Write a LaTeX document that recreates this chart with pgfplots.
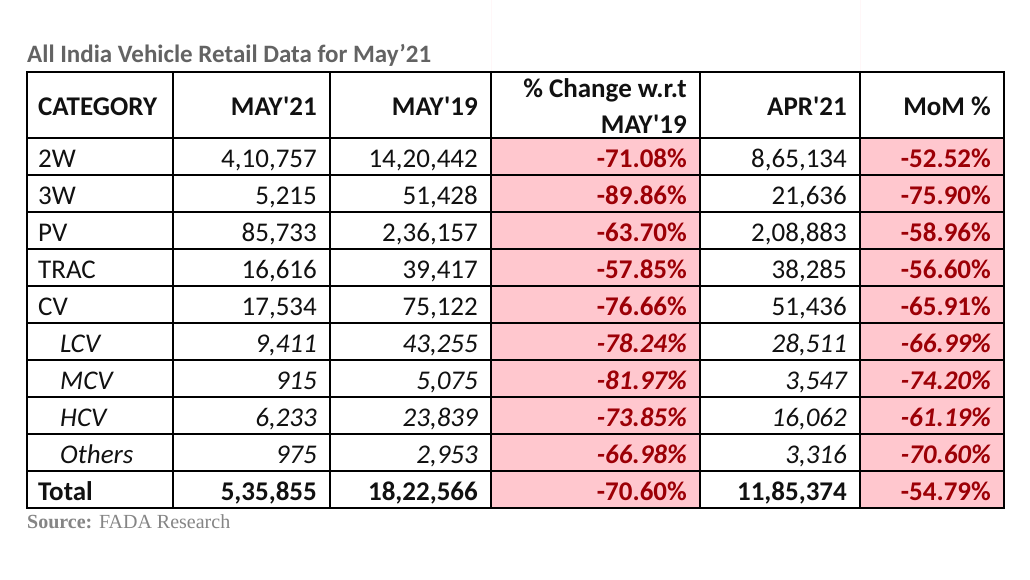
\documentclass[border=0pt]{standalone}
\usepackage{fontspec}
\usepackage{pgfplots}
\pgfplotsset{compat=1.18}
\newfontfamily\calfont{Carlito}
\newfontfamily\srcfont{Liberation Serif}
\definecolor{pinkfill}{HTML}{FFC7CE}
\definecolor{darkred}{HTML}{9C0006}
\definecolor{titlegrey}{HTML}{636363}
\definecolor{srcgrey}{HTML}{858585}
\definecolor{ink}{HTML}{111111}
\tikzset{
  cell/.style={inner sep=0pt, font=\calfont\fontsize{27}{32}\selectfont, text=ink},
  L/.style={cell, anchor=base west},
  R/.style={cell, anchor=base east},
  P/.style={cell, anchor=base east, text=darkred},
}
% y, category, MAY'21, MAY'19, %chg, APR'21, MoM
\newcommand{\rowA}[7]{%
  \node[L] at (axis cs:38,#1) {#2};
  \node[R] at (axis cs:317,#1) {#3};
  \node[R] at (axis cs:478,#1) {#4};
  \node[P] at (axis cs:687,#1) {\bfseries #5};
  \node[R] at (axis cs:847,#1) {#6};
  \node[P] at (axis cs:991,#1) {\bfseries #7};}
\newcommand{\rowB}[7]{%
  \node[L] at (axis cs:60,#1) {\itshape #2};
  \node[R] at (axis cs:317,#1) {\itshape #3};
  \node[R] at (axis cs:478,#1) {\itshape #4};
  \node[P] at (axis cs:687,#1) {\bfseries\itshape #5};
  \node[R] at (axis cs:847,#1) {\itshape #6};
  \node[P] at (axis cs:991,#1) {\bfseries\itshape #7};}
\newcommand{\rowC}[7]{%
  \node[L] at (axis cs:38,#1) {\bfseries #2};
  \node[R] at (axis cs:317,#1) {\bfseries #3};
  \node[R] at (axis cs:478,#1) {\bfseries #4};
  \node[P] at (axis cs:687,#1) {\bfseries #5};
  \node[R] at (axis cs:847,#1) {\bfseries #6};
  \node[P] at (axis cs:991,#1) {\bfseries #7};}
\begin{document}
\begin{tikzpicture}
\begin{axis}[
  width=1030pt, height=579pt, scale only axis,
  xmin=0, xmax=1030, ymin=0, ymax=579, y dir=reverse,
  hide axis, clip=false]
% background (fixes the picture size)
\addplot[draw=none, fill=white] coordinates {(0,0) (1030,0) (1030,579) (0,579)} \closedcycle;
% pink columns
\addplot[draw=none, fill=pinkfill] coordinates {(491,138) (700,138) (700,508) (491,508)} \closedcycle;
\addplot[draw=none, fill=pinkfill] coordinates {(860,138) (1004,138) (1004,508) (860,508)} \closedcycle;
% title
\node[anchor=base west, inner sep=0pt, text=titlegrey, font=\calfont\bfseries\fontsize{25}{30}\selectfont]
  at (axis cs:27,62) {All India Vehicle Retail Data for May’21};
% header
\node[L, font=\calfont\bfseries\fontsize{27}{32}\selectfont] at (axis cs:38,115) {CATEGORY};
\node[R, font=\calfont\bfseries\fontsize{27}{32}\selectfont] at (axis cs:317,115) {MAY'21};
\node[R, font=\calfont\bfseries\fontsize{27}{32}\selectfont] at (axis cs:478,115) {MAY'19};
\node[R, font=\calfont\bfseries\fontsize{27}{32}\selectfont] at (axis cs:687,97) {\% Change w.r.t};
\node[R, font=\calfont\bfseries\fontsize{27}{32}\selectfont] at (axis cs:687,133) {MAY'19};
\node[R, font=\calfont\bfseries\fontsize{27}{32}\selectfont] at (axis cs:847,115) {APR'21};
\node[R, font=\calfont\bfseries\fontsize{27}{32}\selectfont] at (axis cs:991,115) {MoM \%};
% rows
\rowA{167}{2W}{4,10,757}{14,20,442}{-71.08\%}{8,65,134}{-52.52\%}
\rowA{204}{3W}{5,215}{51,428}{-89.86\%}{21,636}{-75.90\%}
\rowA{241}{PV}{85,733}{2,36,157}{-63.70\%}{2,08,883}{-58.96\%}
\rowA{278}{TRAC}{16,616}{39,417}{-57.85\%}{38,285}{-56.60\%}
\rowA{315}{CV}{17,534}{75,122}{-76.66\%}{51,436}{-65.91\%}
\rowB{352}{LCV}{9,411}{43,255}{-78.24\%}{28,511}{-66.99\%}
\rowB{389}{MCV}{915}{5,075}{-81.97\%}{3,547}{-74.20\%}
\rowB{426}{HCV}{6,233}{23,839}{-73.85\%}{16,062}{-61.19\%}
\rowB{463}{Others}{975}{2,953}{-66.98\%}{3,316}{-70.60\%}
\rowC{500}{Total}{5,35,855}{18,22,566}{-70.60\%}{11,85,374}{-54.79\%}
% grid lines
\draw[black, line width=1.6pt] (axis cs:27,175) -- (axis cs:1004,175);
\draw[black, line width=1.6pt] (axis cs:27,212) -- (axis cs:1004,212);
\draw[black, line width=1.6pt] (axis cs:27,249) -- (axis cs:1004,249);
\draw[black, line width=1.6pt] (axis cs:27,286) -- (axis cs:1004,286);
\draw[black, line width=1.6pt] (axis cs:27,323) -- (axis cs:1004,323);
\draw[black, line width=1.6pt] (axis cs:27,360) -- (axis cs:1004,360);
\draw[black, line width=1.6pt] (axis cs:27,397) -- (axis cs:1004,397);
\draw[black, line width=1.6pt] (axis cs:27,434) -- (axis cs:1004,434);
\draw[black, line width=2.2pt] (axis cs:27,138) -- (axis cs:1004,138);
\draw[black, line width=2.2pt] (axis cs:27,471) -- (axis cs:1004,471);
\draw[black, line width=1.6pt] (axis cs:173,72) -- (axis cs:173,508);
\draw[black, line width=1.6pt] (axis cs:330,72) -- (axis cs:330,508);
\draw[black, line width=1.6pt] (axis cs:491,72) -- (axis cs:491,508);
\draw[black, line width=1.6pt] (axis cs:700,72) -- (axis cs:700,508);
\draw[black, line width=1.6pt] (axis cs:860,72) -- (axis cs:860,508);
\draw[black, line width=2.8pt] (axis cs:27,72) rectangle (axis cs:1004,508);
% source
\node[anchor=base west, inner sep=0pt, text=srcgrey, font=\srcfont\fontsize{20}{24}\selectfont]
  at (axis cs:27,528) {\textbf{Source:} FADA Research};
\end{axis}
\end{tikzpicture}
\end{document}
